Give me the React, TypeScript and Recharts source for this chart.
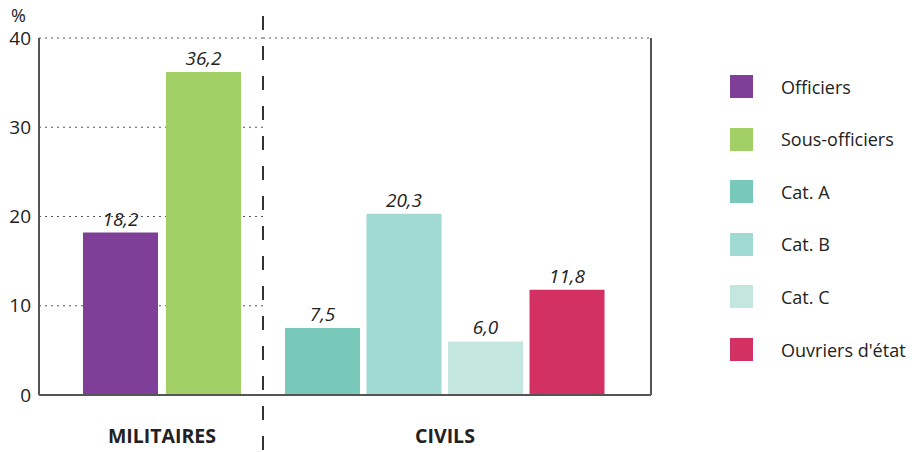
import { BarChart, Bar, XAxis, YAxis, CartesianGrid, Cell, LabelList } from 'recharts';

const militaires = ['Officiers', 'Sous-officiers'];
const militairesValues = [18.2, 36.2];
const civils = ['Cat. A', 'Cat. B', 'Cat. C', "Ouvriers d'état"];
const civilsValues = [7.5, 20.3, 6.0, 11.8];
const seriesColors = ['#7f3f98', '#a2cf66', '#78c9b9', '#a0dad3', '#c3e6df', '#d33163'];
const yTicks = [0, 10, 20, 30, 40];
const groupLabels = ['MILITAIRES', 'CIVILS'];

const FONT = '"Open Sans", sans-serif';
const TEXT = '#222222';
const AXIS = '#555555';

const leftData = militaires.map((name, i) => ({ name, value: militairesValues[i] }));
const rightData = civils.map((name, i) => ({ name, value: civilsValues[i] }));
const legendItems = [...militaires, ...civils];

const fmt = (v: number) => v.toFixed(1).replace('.', ',');

const labelStyle = { fill: TEXT, fontSize: 19, fontStyle: 'italic', fontFamily: FONT };
const groupStyle = { fill: TEXT, fontSize: 19.5, fontWeight: 700, fontFamily: FONT };

export default function App() {
    return (
        <div style={{ position: 'absolute', left: 0, top: 0, width: 912, height: 452, background: '#fff', fontFamily: FONT }}>
            <div style={{ position: 'absolute', left: 0, top: 0 }}>
                <BarChart width={263} height={452} data={leftData} margin={{ top: 38, right: 0, bottom: 0, left: 0 }}>
                    <CartesianGrid vertical={false} stroke={AXIS} strokeDasharray="2 4" />
                    <XAxis
                        dataKey="name"
                        height={57}
                        tick={false}
                        tickLine={false}
                        axisLine={{ stroke: AXIS, strokeWidth: 2 }}
                        padding={{ left: 40, right: 18 }}
                        label={{ value: groupLabels[0], position: 'insideBottom', offset: 9, dx: 11, style: groupStyle }}
                    />
                    <YAxis
                        width={39}
                        domain={[0, 40]}
                        ticks={yTicks}
                        tickLine={false}
                        axisLine={{ stroke: AXIS, strokeWidth: 2 }}
                        tick={{ fill: TEXT, fontSize: 19, fontFamily: FONT }}
                        label={{ value: '%', position: 'top', offset: 16, dx: -1, style: { fill: TEXT, fontSize: 18, fontFamily: FONT } }}
                    />
                    <Bar dataKey="value" barSize={75} isAnimationActive={false}>
                        {leftData.map((d, i) => (
                            <Cell key={d.name} fill={seriesColors[i]} />
                        ))}
                        <LabelList dataKey="value" position="top" offset={7} formatter={fmt} style={labelStyle} />
                    </Bar>
                </BarChart>
            </div>
            <div style={{ position: 'absolute', left: 263, top: 0 }}>
                <BarChart width={649} height={452} data={rightData} margin={{ top: 38, right: 260, bottom: 0, left: 0 }}>
                    <CartesianGrid vertical={false} stroke={AXIS} strokeDasharray="2 4" />
                    <XAxis
                        dataKey="name"
                        height={57}
                        tick={false}
                        tickLine={false}
                        axisLine={{ stroke: AXIS, strokeWidth: 2 }}
                        padding={{ left: 19, right: 43 }}
                        label={{ value: groupLabels[1], position: 'insideBottom', offset: 9, dx: -12, style: groupStyle }}
                    />
                    <YAxis
                        orientation="right"
                        width={1}
                        domain={[0, 40]}
                        ticks={yTicks}
                        tick={false}
                        tickLine={false}
                        axisLine={{ stroke: AXIS, strokeWidth: 2 }}
                    />
                    <Bar dataKey="value" barSize={75} isAnimationActive={false}>
                        {rightData.map((d, i) => (
                            <Cell key={d.name} fill={seriesColors[i + militaires.length]} />
                        ))}
                        <LabelList dataKey="value" position="top" offset={7} formatter={fmt} style={labelStyle} />
                    </Bar>
                </BarChart>
            </div>
            <svg width={912} height={452} style={{ position: 'absolute', left: 0, top: 0, pointerEvents: 'none' }}>
                <line x1={263} y1={16} x2={263} y2={452} stroke="#333" strokeWidth={2} strokeDasharray="14 16" />
            </svg>
            {legendItems.map((name, i) => (
                <div
                    key={name}
                    style={{ position: 'absolute', left: 730, top: 75 + i * 52.6, height: 23, display: 'flex', alignItems: 'center' }}
                >
                    <div style={{ width: 23, height: 23, background: seriesColors[i] }} />
                    <span style={{ marginLeft: 28, fontSize: 18, color: TEXT, whiteSpace: 'nowrap' }}>{name}</span>
                </div>
            ))}
        </div>
    );
}
